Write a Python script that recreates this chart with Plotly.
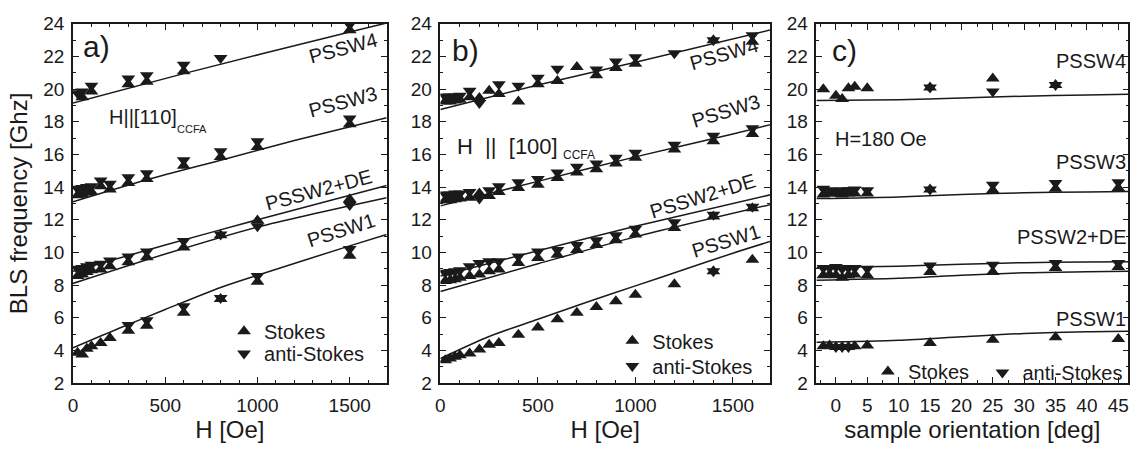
import plotly.graph_objects as go

FONT = "Arial, Liberation Sans, sans-serif"
INK = "#1a1a1a"

# ---------------- Panel a : H || [110] ----------------
a_p1_s_H = [25, 50, 75, 100, 150, 200, 300, 400, 600, 800, 1000, 1500]
a_p1_s_f = [3.85, 3.75, 4.1, 4.25, 4.45, 4.75, 5.2, 5.5, 6.3, 7.15, 8.2, 9.8]
a_p1_as_H = [300, 400, 600, 800, 1000, 1500]
a_p1_as_f = [5.55, 5.85, 6.7, 7.2, 8.55, 10.2]

a_p2_H = [25, 50, 75, 100, 150, 200, 300, 400, 600, 800, 1000, 1500]
a_p2_s_f = [8.55, 8.65, 8.8, 8.9, 8.95, 9.15, 9.4, 9.7, 10.3, 11.05, 11.95, 13.25]
a_p2_as_f = [9.0, 9.05, 9.15, 9.25, 9.3, 9.5, 9.75, 10.05, 10.7, 11.1, 11.6, 12.9]

a_p3_H = [25, 50, 75, 100, 150, 200, 300, 400, 600, 800, 1000, 1500]
a_p3_s_f = [13.5, 13.55, 13.65, 13.7, 14.05, 13.85, 14.25, 14.5, 15.3, 15.85, 16.45, 17.85]
a_p3_as_f = [13.9, 13.95, 14.0, 14.05, 14.4, 14.2, 14.6, 14.85, 15.65, 16.2, 16.8, 18.2]

a_p4_s_H = [50, 100, 300, 400, 600, 1500]
a_p4_s_f = [19.5, 19.85, 20.3, 20.45, 21.1, 23.6]
a_p4_as_H = [25, 50, 100, 300, 400, 600, 800, 1500]
a_p4_as_f = [19.75, 19.85, 20.2, 20.65, 20.85, 21.5, 21.9, 23.95]

# theory curves
a_L1_H = [0, 250, 500, 800, 1000, 1500, 1700]
a_L1_f = [4.15, 5.35, 6.5, 7.85, 8.6, 10.4, 11.1]
a_L2_H = [0, 500, 1000, 1700]
a_L2u_f = [8.85, 10.45, 12.0, 14.1]
a_L2l_f = [8.1, 9.9, 11.55, 13.35]
a_L3_H = [0, 400, 800, 1200, 1700]
a_L3_f = [13.1, 14.45, 15.65, 16.85, 18.25]
a_L4_H = [0, 600, 1500, 1700]
a_L4_f = [19.15, 20.95, 23.5, 24.05]

# ---------------- Panel b : H || [100] ----------------
b_H = [25, 50, 75, 100, 150, 200, 250, 300, 400, 500, 600, 700, 800, 900, 1000, 1200, 1400, 1600]
b_p1_s_f = [3.4, 3.5, 3.6, 3.7, 3.8, 4.05, 4.35, 4.45, 4.95, 5.4, 5.9, 6.3, 6.65, 7.0, 7.4, 8.05, 8.85, 9.55]
b_p1_as_H = [1400]
b_p1_as_f = [8.85]

b_p2_s_f = [8.25, 8.3, 8.35, 8.45, 8.55, 8.65, 8.85, 8.95, 9.35, 9.65, 9.85, 10.15, 10.45, 10.75, 11.1, 11.5, 12.2, 12.7]
b_p2_as_f = [8.75, 8.8, 8.85, 8.9, 9.15, 9.35, 9.45, 9.45, 9.75, 10.05, 10.15, 10.45, 10.75, 11.05, 11.45, 11.85, 12.3, 12.8]

b_p3_s_f = [13.2, 13.2, 13.25, 13.3, 13.35, 13.6, 13.45, 13.7, 13.95, 14.15, 14.55, 14.9, 15.1, 15.45, 15.8, 16.3, 16.8, 17.25]
b_p3_as_f = [13.55, 13.55, 13.6, 13.6, 13.7, 13.3, 13.8, 14.05, 14.3, 14.5, 14.9, 15.25, 15.45, 15.8, 16.1, 16.6, 17.15, 17.6]

b_p4_s_H = [25, 50, 75, 100, 150, 200, 250, 300, 400, 500, 600, 700, 800, 900, 1000, 1400, 1600]
b_p4_s_f = [19.25, 19.25, 19.3, 19.35, 19.5, 19.45, 19.9, 19.7, 19.25, 20.3, 20.5, 21.35, 20.85, 21.3, 21.55, 23.0, 22.9]
b_p4_as_H = [25, 50, 75, 100, 150, 200, 300, 400, 500, 600, 800, 900, 1000, 1200, 1400, 1600]
b_p4_as_f = [19.55, 19.55, 19.55, 19.6, 19.9, 19.15, 20.3, 20.2, 20.7, 21.25, 21.2, 21.7, 21.95, 22.2, 23.0, 23.3]

b_L1_H = [0, 250, 500, 750, 1000, 1250, 1500, 1700]
b_L1_f = [3.5, 4.85, 5.9, 6.95, 7.95, 8.95, 9.95, 10.7]
b_L2_H = [0, 500, 1000, 1700]
b_L2u_f = [8.55, 10.1, 11.6, 13.55]
b_L2l_f = [7.6, 9.3, 10.95, 12.95]
b_L3_H = [0, 500, 1000, 1500, 1700]
b_L3_f = [12.85, 14.35, 15.85, 17.25, 17.85]
b_L4_H = [0, 500, 1000, 1700]
b_L4_f = [18.75, 20.25, 21.65, 23.65]

# ---------------- Panel c : H = 180 Oe ----------------
c_deg = [-2, -1, 0, 1, 2, 3, 5, 15, 25, 35, 45]
c_p1_s_f = [4.25, 4.3, 4.2, 4.2, 4.2, 4.25, 4.3, 4.45, 4.65, 4.8, 4.7]
c_p1_as_deg = [0, 1, 2]
c_p1_as_f = [4.2, 4.2, 4.2]

c_p2_s_f = [8.6, 8.65, 8.6, 8.45, 8.6, 8.65, 8.6, 8.8, 8.8, 9.05, 9.1]
c_p2_as_f = [9.05, 9.05, 9.1, 9.0, 9.05, 9.05, 9.0, 9.2, 9.25, 9.35, 9.35]

c_p3_s_f = [13.55, 13.6, 13.6, 13.55, 13.6, 13.6, 13.6, 13.85, 13.8, 13.9, 13.95]
c_p3_as_f = [13.9, 13.8, 13.75, 13.8, 13.8, 13.85, 13.8, 13.85, 14.15, 14.25, 14.3]

c_p4_s_deg = [-2, 0, 1, 2, 3, 5, 15, 25, 35]
c_p4_s_f = [20.0, 19.6, 19.4, 20.05, 20.15, 20.05, 20.1, 20.65, 20.25]
c_p4_as_deg = [15, 25, 35]
c_p4_as_f = [20.1, 19.85, 20.25]

c_L_deg = [-3.1, 10, 20, 30, 40, 46.6]
c_L1_f = [4.5, 4.62, 4.83, 5.03, 5.14, 5.17]
c_L2u_f = [9.08, 9.15, 9.27, 9.37, 9.41, 9.43]
c_L2l_f = [8.3, 8.42, 8.6, 8.75, 8.81, 8.84]
c_L3_f = [13.3, 13.4, 13.55, 13.65, 13.7, 13.73]
c_L4_f = [19.3, 19.35, 19.45, 19.57, 19.64, 19.68]

# ---------------- figure ----------------
fig = go.Figure()


def add_lines(xa, ya, curves):
    for xs, ys in curves:
        fig.add_trace(go.Scatter(x=xs, y=ys, mode="lines", xaxis=xa, yaxis=ya,
                                 line=dict(color=INK, width=1.5, shape="spline", smoothing=0.8),
                                 showlegend=False, hoverinfo="skip"))


def add_points(xa, ya, groups, symbol, name, legend):
    xs, ys = [], []
    for gx, gy in groups:
        xs += list(gx)
        ys += list(gy)
    fig.add_trace(go.Scatter(x=xs, y=ys, mode="markers", xaxis=xa, yaxis=ya, name=name,
                             marker=dict(symbol=symbol, size=12, color=INK, line=dict(width=0)),
                             legend=legend, showlegend=True))


add_lines("x", "y", [(a_L1_H, a_L1_f), (a_L2_H, a_L2u_f), (a_L2_H, a_L2l_f),
                     (a_L3_H, a_L3_f), (a_L4_H, a_L4_f)])
add_points("x", "y", [(a_p1_s_H, a_p1_s_f), (a_p2_H, a_p2_s_f), (a_p3_H, a_p3_s_f),
                      (a_p4_s_H, a_p4_s_f)], "triangle-up", "Stokes", "legend")
add_points("x", "y", [(a_p1_as_H, a_p1_as_f), (a_p2_H, a_p2_as_f), (a_p3_H, a_p3_as_f),
                      (a_p4_as_H, a_p4_as_f)], "triangle-down", "anti-Stokes", "legend2")

add_lines("x2", "y2", [(b_L1_H, b_L1_f), (b_L2_H, b_L2u_f), (b_L2_H, b_L2l_f),
                       (b_L3_H, b_L3_f), (b_L4_H, b_L4_f)])
add_points("x2", "y2", [(b_H, b_p1_s_f), (b_H, b_p2_s_f), (b_H, b_p3_s_f),
                        (b_p4_s_H, b_p4_s_f)], "triangle-up", "Stokes", "legend3")
add_points("x2", "y2", [(b_p1_as_H, b_p1_as_f), (b_H, b_p2_as_f), (b_H, b_p3_as_f),
                        (b_p4_as_H, b_p4_as_f)], "triangle-down", "anti-Stokes", "legend4")

add_lines("x3", "y3", [(c_L_deg, c_L1_f), (c_L_deg, c_L2u_f), (c_L_deg, c_L2l_f),
                       (c_L_deg, c_L3_f), (c_L_deg, c_L4_f)])
add_points("x3", "y3", [(c_deg, c_p1_s_f), (c_deg, c_p2_s_f), (c_deg, c_p3_s_f),
                        (c_p4_s_deg, c_p4_s_f)], "triangle-up", "Stokes", "legend5")
add_points("x3", "y3", [(c_p1_as_deg, c_p1_as_f), (c_deg, c_p2_as_f), (c_deg, c_p3_as_f),
                        (c_p4_as_deg, c_p4_as_f)], "triangle-down", "anti-Stokes", "legend6")

W, H = 1140, 456
Y_DOM = [(H - 391) / H, (H - 14.5) / H]

axis_common = dict(showline=True, linecolor=INK, linewidth=1.5, mirror="ticks",
                   ticks="inside", ticklen=6, tickwidth=1.2, tickcolor=INK,
                   showgrid=False, zeroline=False,
                   tickfont=dict(family=FONT, size=19, color=INK),
                   title_font=dict(family=FONT, size=24, color=INK))


def xax(domain, rng, dtick, minor, title, anchor):
    d = dict(axis_common)
    d.update(domain=domain, range=rng, dtick=dtick, tick0=0, anchor=anchor,
             minor=dict(dtick=minor, ticks="inside", ticklen=3, tickwidth=1.2, tickcolor=INK),
             title=dict(text=title, standoff=4), ticklabelstandoff=4)
    return d


def yax(anchor, title=None):
    d = dict(axis_common)
    d.update(domain=Y_DOM, range=[2, 24], dtick=2, tick0=0, anchor=anchor,
             minor=dict(dtick=1, ticks="inside", ticklen=3, tickwidth=1.2, tickcolor=INK),
             ticklabelstandoff=3)
    if title:
        d["title"] = dict(text=title, standoff=9)
    return d


def one_legend(x_px, y_px):
    # a one-item legend; its symbol sits about 20 px right of x_px
    return dict(x=x_px / W, y=(H - y_px - 5) / H, xanchor="left", yanchor="middle",
                bgcolor="rgba(0,0,0,0)", font=dict(family=FONT, size=20, color=INK))


fig.update_layout(
    width=W, height=H,
    margin=dict(l=0, r=0, t=0, b=0),
    paper_bgcolor="white", plot_bgcolor="white",
    font=dict(family=FONT, size=19, color=INK),
    xaxis=xax([68.3 / W, 383.3 / W], [0, 1700], 500, 100, "H [Oe]", "y"),
    xaxis2=xax([437.3 / W, 768.3 / W], [0, 1690], 500, 100, "H [Oe]", "y2"),
    xaxis3=xax([815 / W, 1128.3 / W], [-3.1, 46.6], 5, 2.5, "sample orientation [deg]", "y3"),
    yaxis=yax("x", "BLS frequency [Ghz]"),
    yaxis2=yax("x2"),
    yaxis3=yax("x3"),
    legend=one_legend(220, 331.7),
    legend2=one_legend(220, 355),
    legend3=one_legend(610, 341.7),
    legend4=one_legend(610, 368.3),
    legend5=one_legend(866.7, 374),
    legend6=one_legend(981.7, 375),
)

ann = []


def label(text, x, y, xref, yref, size=20, angle=0, xanchor="center"):
    ann.append(dict(text=text, x=x, y=y, xref=xref, yref=yref, showarrow=False,
                    textangle=angle, xanchor=xanchor, yanchor="middle",
                    font=dict(family=FONT, size=size, color=INK)))


NB = "\u00a0"
# panel a
label("a)", 125, 22.6, "x", "y", size=30)
label("PSSW4", 1465, 22.55, "x", "y", angle=-15)
label("PSSW3", 1462, 19.2, "x", "y", angle=-15)
label("H||[110]", 182, 18.3, "x", "y", xanchor="left")
label("CCFA", 555, 17.55, "x", "y", size=11, xanchor="left")
label("PSSW2+DE", 1330, 13.8, "x", "y", angle=-15)
label("PSSW1", 1455, 11.4, "x", "y", angle=-18)
# panel b
label("b)", 130, 22.35, "x2", "y2", size=30)
label("PSSW4", 1455, 22.15, "x2", "y2", angle=-16)
label("PSSW3", 1466, 18.65, "x2", "y2", angle=-17)
label("H" + NB * 2 + "||" + NB * 2 + "[100]", 75, 16.5, "x2", "y2", size=22, xanchor="left")
label("CCFA", 618, 15.95, "x2", "y2", size=12, xanchor="left")
label("PSSW2+DE", 1345, 13.45, "x2", "y2", angle=-17)
label("PSSW1", 1466, 10.7, "x2", "y2", angle=-17)
# panel c
label("c)", 1.4, 22.35, "x3", "y3", size=30)
label("PSSW4", 46.6, 21.7, "x3", "y3", xanchor="right")
label("H=180 Oe", -0.4, 16.95, "x3", "y3", xanchor="left")
label("PSSW3", 46.6, 15.55, "x3", "y3", xanchor="right")
label("PSSW2+DE", 46.6, 10.92, "x3", "y3", xanchor="right")
label("PSSW1", 46.6, 5.95, "x3", "y3", xanchor="right")

fig.update_layout(annotations=ann)

fig.write_html("out.html")
